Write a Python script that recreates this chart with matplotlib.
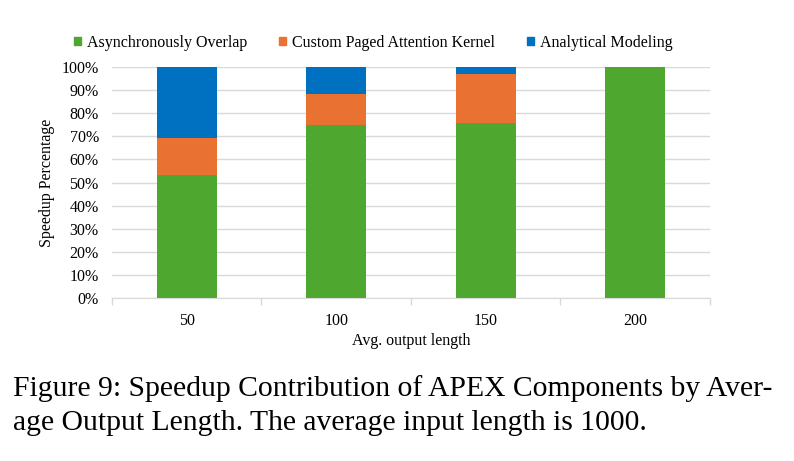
import numpy as np
import matplotlib.pyplot as plt
from matplotlib.patches import Patch

plt.rcParams['font.family'] = ['Liberation Serif', 'DejaVu Serif']

categories = ['50', '100', '150', '200']
async_overlap = [53.2, 74.9, 75.9, 100.0]
paged_kernel = [16.1, 13.3, 21.1, 0.0]
analytical = [30.7, 11.8, 3.0, 0.0]

green = '#4EA72E'
orange = '#E97132'
blue = '#0070C0'
grid_c = '#D9D9D9'

fig = plt.figure(figsize=(7.94, 4.61), dpi=100)
ax = fig.add_axes([0.141, 0.3536, 0.753, 0.501])

x = np.arange(len(categories))
w = 0.4
b1 = np.array(async_overlap)
b2 = b1 + np.array(paged_kernel)
ax.bar(x, async_overlap, w, color=green, zorder=3)
ax.bar(x, paged_kernel, w, bottom=b1, color=orange, zorder=3)
ax.bar(x, analytical, w, bottom=b2, color=blue, zorder=3)

ax.set_xlim(-0.5, len(categories) - 0.5)
ax.set_ylim(0, 100)
ax.set_yticks(np.arange(0, 101, 10))
ax.set_yticklabels([f'{v}%' for v in range(0, 101, 10)], fontsize=11.5)
ax.set_xticks(x)
ax.set_xticklabels(categories, fontsize=11.5)
ax.set_xticks(np.arange(-0.5, len(categories), 1), minor=True)
ax.tick_params(axis='x', which='major', length=0, pad=11)
ax.tick_params(axis='x', which='minor', length=5, color=grid_c, width=1)
ax.tick_params(axis='y', length=0, pad=9.5)
ax.grid(axis='y', color=grid_c, linewidth=1, zorder=0)
for s in ['top', 'right', 'left']:
    ax.spines[s].set_visible(False)
ax.spines['bottom'].set_color(grid_c)
ax.spines['bottom'].set_zorder(4)

ax.set_xlabel('Avg. output length', fontsize=11.5, labelpad=3)
ax.set_ylabel('Speedup Percentage', fontsize=11.5, labelpad=5)

handles = [Patch(color=green, label='Asynchronously Overlap'),
           Patch(color=orange, label='Custom Paged Attention Kernel'),
           Patch(color=blue, label='Analytical Modeling')]
fig.legend(handles=handles, loc='center', bbox_to_anchor=(0.47, 0.907), ncol=3,
           frameon=False, fontsize=11.5, handlelength=0.45, handleheight=0.45,
           handletextpad=0.35, columnspacing=2.0)

# caption
fig.text(0.016, 0.140, 'Figure 9: Speedup Contribution of APEX Components by Aver-',
         fontsize=21.3, va='baseline')
fig.text(0.016, 0.067, 'age Output Length. The average input length is 1000.',
         fontsize=21.3, va='baseline')

fig.savefig('out.png', dpi=100)
